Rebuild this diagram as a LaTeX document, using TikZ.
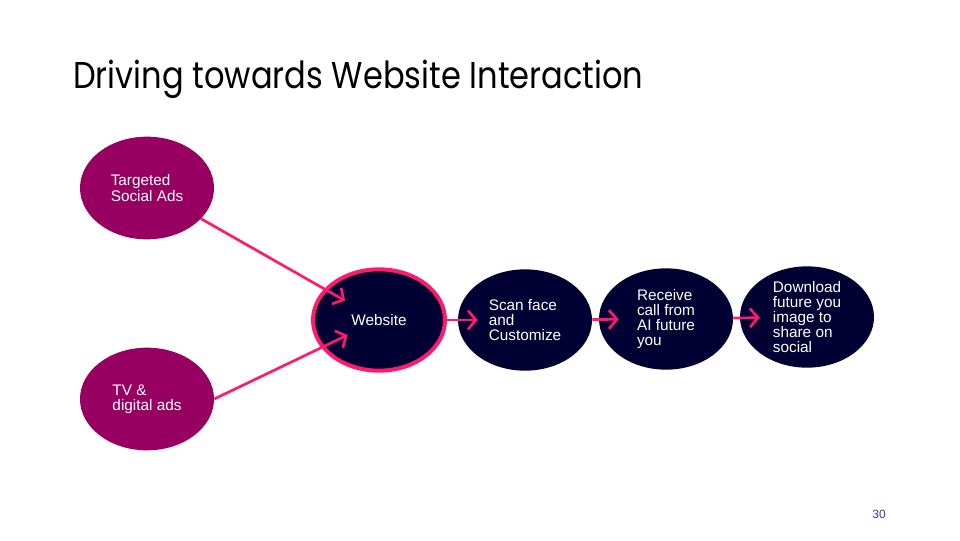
\documentclass[tikz,border=0pt]{standalone}
\usepackage{fontspec}
\setmainfont{Liberation Sans}
\newfontfamily\titlefont[FakeStretch=0.86]{Poppins}
\usetikzlibrary{shapes.geometric,arrows.meta}
\definecolor{adpurple}{HTML}{970060}
\definecolor{navy}{HTML}{000032}
\definecolor{hotpink}{HTML}{FF1A6B}
\definecolor{pagenum}{HTML}{3A3A8C}
\begin{document}
\begin{tikzpicture}[x=0.75pt,y=-0.75pt,
  blob/.style={ellipse,inner sep=0pt,text=white,align=left,font=\fontsize{11.5}{11.3}\selectfont},
  adnode/.style={blob,fill=adpurple,minimum width=100.5pt,minimum height=77pt},
  stepnode/.style={blob,fill=navy,minimum width=100.5pt,minimum height=76pt},
  flow/.style={draw=hotpink,line width=2pt,-{Straight Barb[length=6pt,width=14pt]}}]
\useasboundingbox (0,0) rectangle (960,540);
\node[anchor=base west,inner sep=0pt,font=\titlefont\fontsize{28}{28}\selectfont] (title) at (73,88) {Driving towards Website Interaction};
% sources
\node[adnode] (social) at (147,188) {Targeted\\Social Ads};
\node[adnode] (tv) at (147,399) {TV \&\\digital ads};
% steps
\node[stepnode,draw=hotpink,line width=3pt,minimum width=99pt,minimum height=76pt] (web) at (379,320) {Website};
\node[stepnode] (scan) at (525,320) {Scan face\\and\\Customize};
\node[stepnode] (call) at (666,319) {Receive\\call from\\AI future\\you};
\node[stepnode] (share) at (807,317) {Download\\future you\\image to\\share on\\social};
% arrows
\draw[flow,shorten >=-18pt] (social) -- (web);
\draw[flow,shorten >=-22pt] (tv.east) -- (web);
\draw[flow,shorten >=-15pt] (web) -- (scan);
\draw[flow,shorten >=-15pt] (scan) -- (call);
\draw[flow,shorten >=-15pt] (call) -- (share);
\node[text=pagenum,font=\fontsize{9}{9}\selectfont] (page) at (879,514) {30};
\end{tikzpicture}
\end{document}
